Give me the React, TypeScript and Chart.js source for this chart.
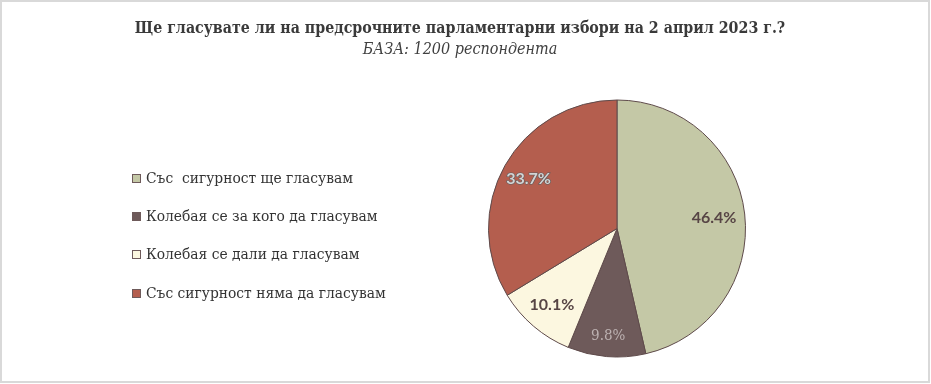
import React, { useEffect, useRef } from "react";
import { Chart, registerables } from "chart.js";

Chart.register(...registerables);

const TITLE = "Ще гласувате ли на предсрочните парламентарни избори на 2 април 2023 г.?";
const SUBTITLE = "БАЗА: 1200 респондента";
const categories = [
  "Със  сигурност ще гласувам",
  "Колебая се за кого да гласувам",
  "Колебая се дали да гласувам",
  "Със сигурност няма да гласувам",
];
const values = [46.4, 9.8, 10.1, 33.7];
const colors = ["#C4C8A6", "#6E5A5A", "#FCF7E0", "#B45E4E"];
const labelRadius = [0.76, 0.84, 0.78, 0.79];

const W = 931;
const H = 384;

const overlayPlugin = {
  id: "overlay",
  beforeDraw(chart: any) {
    const ctx = chart.ctx;
    ctx.save();
    ctx.fillStyle = "#FFFFFF";
    ctx.fillRect(0, 0, W, H);
    ctx.strokeStyle = "#D9D9D9";
    ctx.lineWidth = 2;
    ctx.strokeRect(1, 1, W - 3, H - 3);
    ctx.restore();
  },
  afterDraw(chart: any) {
    const ctx = chart.ctx;
    ctx.save();
    ctx.textAlign = "center";
    ctx.textBaseline = "middle";
    ctx.fillStyle = "#3A3A3A";
    ctx.font = "bold 15.8px 'DejaVu Serif Condensed', 'DejaVu Serif', serif";
    ctx.fillText(TITLE, 460, 29);
    ctx.font = "italic 16px 'DejaVu Serif Condensed', 'DejaVu Serif', serif";
    ctx.fillStyle = "#404040";
    ctx.fillText(SUBTITLE, 460, 50);

    const labels = chart.data.labels as string[];
    const bg = chart.data.datasets[0].backgroundColor as string[];
    const rowY = [179, 217, 255, 294];
    ctx.textAlign = "left";
    ctx.font = "15.4px 'DejaVu Serif Condensed', 'DejaVu Serif', serif";
    labels.forEach((lab, i) => {
      const y = rowY[i];
      ctx.fillStyle = bg[i];
      ctx.fillRect(132.5, y - 4.5, 8, 8);
      ctx.strokeStyle = "#6E5A5A";
      ctx.lineWidth = 1;
      ctx.strokeRect(132.5, y - 4.5, 8, 8);
      ctx.fillStyle = "#333333";
      ctx.fillText(lab, 146, y);
    });

    const meta = chart.getDatasetMeta(0);
    const data = chart.data.datasets[0].data as number[];
    ctx.textAlign = "center";
    ctx.textBaseline = "middle";
    meta.data.forEach((arc: any, i: number) => {
      const p = arc.getProps(["x", "y", "startAngle", "endAngle", "outerRadius"], true);
      const mid = (p.startAngle + p.endAngle) / 2;
      const r = p.outerRadius * labelRadius[i];
      const x = p.x + Math.cos(mid) * r;
      const y = p.y + Math.sin(mid) * r;
      const txt = data[i].toFixed(1) + "%";
      if (i === 0 || i === 2) {
        ctx.font = "bold 16px Lato, 'Open Sans', sans-serif";
        ctx.fillStyle = "#574545";
        ctx.fillText(txt, x, y);
      } else if (i === 1) {
        ctx.font = "15px 'DejaVu Serif Condensed', 'DejaVu Serif', serif";
        ctx.fillStyle = "#BDB2B2";
        ctx.fillText(txt, x, y);
      } else {
        ctx.font = "bold 16px Lato, 'Open Sans', sans-serif";
        ctx.lineWidth = 1.2;
        ctx.strokeStyle = "#5E5E5E";
        ctx.strokeText(txt, x, y);
        ctx.fillStyle = "#D4D4D4";
        ctx.fillText(txt, x, y);
      }
    });
    ctx.restore();
  },
};

export default function App() {
  const ref = useRef<HTMLCanvasElement | null>(null);
  useEffect(() => {
    if (!ref.current) return;
    const chart = new Chart(ref.current, {
      type: "pie",
      data: {
        labels: categories,
        datasets: [
          {
            data: values,
            backgroundColor: colors,
            borderColor: "#5F4B4B",
            borderWidth: 1,
          },
        ],
      },
      options: {
        responsive: false,
        animation: false,
        devicePixelRatio: 1,
        layout: { padding: { left: 488, right: 185, top: 99, bottom: 26 } },
        plugins: {
          legend: { display: false },
          title: { display: false },
          tooltip: { enabled: false },
        },
      },
      plugins: [overlayPlugin],
    });
    return () => chart.destroy();
  }, []);
  return (
    <div style={{ position: "absolute", left: 0, top: 0, width: W, height: H, background: "#fff" }}>
      <canvas ref={ref} width={W} height={H} style={{ display: "block", width: W, height: H }} />
    </div>
  );
}
